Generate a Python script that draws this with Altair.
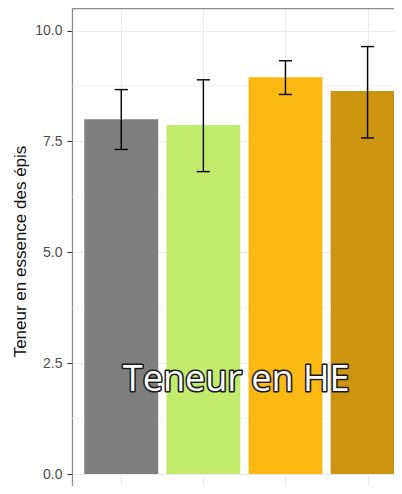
import altair as alt
import pandas as pd

# ---- data ----
categories = ["T1", "T2", "T3", "T4"]
positions = [1, 2, 3, 4]
means = [8.00, 7.87, 8.95, 8.64]
err_low = [7.32, 6.82, 8.56, 7.58]
err_high = [8.67, 8.89, 9.32, 9.64]
bar_colors = ["#7F7F7F", "#C0EB6C", "#FDB913", "#CD940F"]
y_ticks = [0, 2.5, 5, 7.5, 10]
minor_ticks = [1.25, 3.75, 6.25, 8.75]
annotation = ["Teneur en HE"]
annotation_x = [2.40]
annotation_y = [1.88]

df = pd.DataFrame({
    "cat": categories,
    "pos": positions,
    "mean": means,
    "lo": err_low,
    "hi": err_high,
})

W, H = 322, 478
xs = alt.Scale(domain=[0.4, 4.322], nice=False, zero=False)
ys = alt.Scale(domain=[-0.27, 10.51], nice=False, zero=False)
GRID = "#EBEBEB"

x_axis = alt.Axis(values=positions, grid=True, labels=False, ticks=False,
                  domain=False, title=None, gridColor=GRID, gridWidth=1.2)
y_axis = alt.Axis(values=y_ticks, format=".1f", title="Teneur en essence des épis",
                  labelFont="Liberation Sans", labelFontSize=14, labelColor="#4D4D4D",
                  labelPadding=5, tickSize=5, tickColor="#333333", tickWidth=1.1,
                  domainColor="#8C8C8C", domainWidth=1.3, grid=True,
                  gridColor=GRID, gridWidth=1.2,
                  titleFont="Liberation Sans", titleFontSize=17, titleFontWeight="normal",
                  titleColor="#111111", titleX=-52, titleY=243, titleAngle=270,
                  titleBaseline="middle", titleAlign="center")

base = alt.Chart(df)

minor = alt.Chart(pd.DataFrame({"m": minor_ticks})).mark_rule(
    color=GRID, strokeWidth=0.6
).encode(
    y=alt.Y("m:Q", scale=ys, axis=y_axis),
    x=alt.value(0), x2=alt.value(W),
)

bars = base.transform_calculate(
    xl="datum.pos - 0.45", xr="datum.pos + 0.45", z="0"
).mark_bar(clip=True).encode(
    x=alt.X("xl:Q", scale=xs, axis=x_axis),
    x2="xr:Q",
    y=alt.Y("mean:Q", scale=ys, axis=y_axis),
    y2="z:Q",
    color=alt.Color("cat:N", scale=alt.Scale(domain=categories, range=bar_colors), legend=None),
)

err_v = base.mark_rule(color="black", strokeWidth=1.4).encode(
    x=alt.X("pos:Q", scale=xs, axis=x_axis),
    y=alt.Y("lo:Q", scale=ys, axis=y_axis),
    y2="hi:Q",
)

caps = base.transform_calculate(
    cl="datum.pos - 0.08", cr="datum.pos + 0.08"
)
cap_hi = caps.mark_rule(color="black", strokeWidth=1.4).encode(
    x=alt.X("cl:Q", scale=xs, axis=x_axis), x2="cr:Q",
    y=alt.Y("hi:Q", scale=ys, axis=y_axis)
)
cap_lo = caps.mark_rule(color="black", strokeWidth=1.4).encode(
    x=alt.X("cl:Q", scale=xs, axis=x_axis), x2="cr:Q",
    y=alt.Y("lo:Q", scale=ys, axis=y_axis)
)

top_border = alt.Chart(pd.DataFrame({"a": [0]})).mark_rule(
    color="#8C8C8C", strokeWidth=1.3
).encode(x=alt.value(0), x2=alt.value(W), y=alt.value(0.5))

tdf = pd.DataFrame({"label": annotation, "tx": annotation_x, "ty": annotation_y})
txt_outline = alt.Chart(tdf).mark_text(
    font="Open Sans", fontSize=36, align="center", baseline="alphabetic",
    fill="#1A1A1A", stroke="#1A1A1A", strokeWidth=3.2, strokeJoin="round"
).encode(x=alt.X("tx:Q", scale=xs, axis=x_axis),
         y=alt.Y("ty:Q", scale=ys, axis=y_axis), text="label:N")
txt_fill = alt.Chart(tdf).mark_text(
    font="Open Sans", fontSize=36, align="center", baseline="alphabetic",
    fill="white"
).encode(x=alt.X("tx:Q", scale=xs, axis=x_axis),
         y=alt.Y("ty:Q", scale=ys, axis=y_axis), text="label:N")

chart = alt.layer(
    minor, bars, err_v, cap_hi, cap_lo, top_border, txt_outline, txt_fill
).properties(
    width=W, height=H,
    autosize=alt.AutoSizeParams(type="none"),
    padding={"left": 64, "top": 0, "right": 0, "bottom": 0},
).configure_view(stroke=None)

chart.save("out.html", embed_options={"renderer": "svg", "actions": False})
